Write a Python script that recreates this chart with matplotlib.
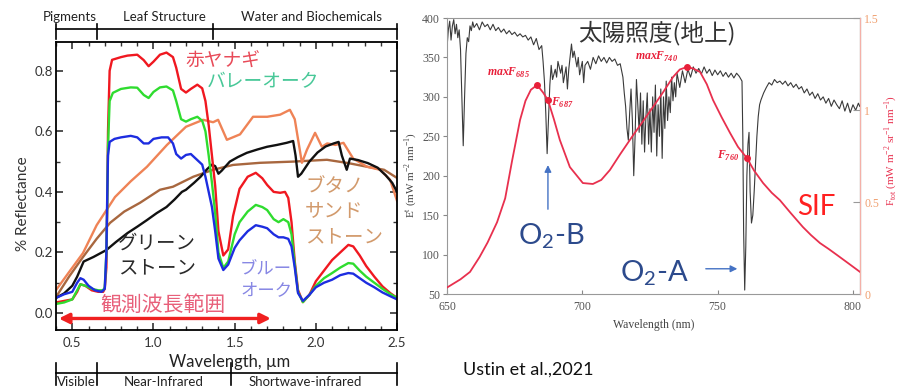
import matplotlib
matplotlib.use("Agg")
import matplotlib.pyplot as plt

plt.rcParams["font.family"] = ["Lato", "Noto Sans CJK JP", "DejaVu Sans"]
JP = ["Noto Sans CJK JP", "DejaVu Sans"]
SERIF = ["Liberation Serif", "DejaVu Serif"]

# ---- left panel: reflectance spectra (um, fraction) ----
willow_wl = [0.40, 0.45, 0.50, 0.53, 0.55, 0.58, 0.62, 0.66, 0.69, 0.70, 0.71, 0.715, 0.72, 0.73, 0.745,
             0.80, 0.84, 0.90, 0.94, 0.97, 1.00, 1.04, 1.08, 1.12, 1.14, 1.17, 1.20, 1.23, 1.27, 1.30,
             1.32, 1.34, 1.36, 1.38, 1.40, 1.43, 1.46, 1.49, 1.53, 1.58, 1.63, 1.67, 1.70, 1.74, 1.78,
             1.81, 1.83, 1.85, 1.87, 1.89, 1.92, 1.96, 2.00, 2.05, 2.10, 2.15, 2.20, 2.23, 2.27, 2.31,
             2.36, 2.41, 2.46, 2.50]
willow_r = [0.035, 0.04, 0.045, 0.07, 0.095, 0.09, 0.075, 0.07, 0.07, 0.08, 0.15, 0.35, 0.60, 0.80, 0.836,
            0.845, 0.85, 0.853, 0.835, 0.815, 0.83, 0.853, 0.86, 0.845, 0.81, 0.74, 0.728, 0.74, 0.754, 0.742,
            0.70, 0.62, 0.52, 0.42, 0.27, 0.19, 0.21, 0.32, 0.41, 0.45, 0.463, 0.445, 0.423, 0.40, 0.397,
            0.40, 0.38, 0.30, 0.17, 0.076, 0.036, 0.06, 0.105, 0.14, 0.175, 0.20, 0.225, 0.22, 0.19, 0.155,
            0.12, 0.088, 0.065, 0.05]

valley_oak_wl = [0.40, 0.45, 0.50, 0.53, 0.55, 0.58, 0.62, 0.66, 0.69, 0.70, 0.71, 0.715, 0.72, 0.73, 0.75,
                 0.80, 0.86, 0.90, 0.94, 0.97, 1.00, 1.04, 1.08, 1.12, 1.14, 1.17, 1.20, 1.23, 1.27, 1.30,
                 1.32, 1.34, 1.36, 1.38, 1.40, 1.43, 1.46, 1.50, 1.53, 1.58, 1.63, 1.67, 1.70, 1.74, 1.77,
                 1.80, 1.83, 1.85, 1.87, 1.89, 1.92, 1.96, 2.00, 2.05, 2.10, 2.15, 2.20, 2.23, 2.27, 2.31,
                 2.36, 2.41, 2.46, 2.50]
valley_oak_r = [0.03, 0.035, 0.045, 0.075, 0.095, 0.09, 0.08, 0.075, 0.075, 0.085, 0.2, 0.35, 0.55, 0.70, 0.727,
                0.74, 0.745, 0.744, 0.72, 0.71, 0.73, 0.745, 0.748, 0.735, 0.70, 0.64, 0.632, 0.64, 0.648, 0.635,
                0.60, 0.52, 0.43, 0.33, 0.20, 0.149, 0.17, 0.26, 0.30, 0.335, 0.357, 0.35, 0.34, 0.31, 0.30,
                0.31, 0.30, 0.26, 0.16, 0.07, 0.036, 0.06, 0.09, 0.115, 0.132, 0.15, 0.165, 0.163, 0.14, 0.12,
                0.10, 0.08, 0.062, 0.05]

blue_oak_wl = [0.40, 0.45, 0.50, 0.53, 0.55, 0.57, 0.60, 0.64, 0.68, 0.70, 0.71, 0.715, 0.72, 0.73, 0.76,
               0.80, 0.86, 0.90, 0.94, 0.97, 1.00, 1.05, 1.09, 1.12, 1.14, 1.17, 1.20, 1.23, 1.27, 1.30,
               1.32, 1.34, 1.36, 1.38, 1.40, 1.43, 1.46, 1.50, 1.53, 1.58, 1.63, 1.67, 1.70, 1.74, 1.77,
               1.80, 1.83, 1.85, 1.87, 1.89, 1.92, 1.96, 2.00, 2.05, 2.10, 2.15, 2.20, 2.23, 2.27, 2.31,
               2.36, 2.41, 2.46, 2.50]
blue_oak_r = [0.05, 0.062, 0.07, 0.10, 0.115, 0.11, 0.09, 0.075, 0.07, 0.08, 0.2, 0.38, 0.52, 0.565, 0.575,
              0.58, 0.585, 0.58, 0.56, 0.56, 0.575, 0.58, 0.58, 0.56, 0.525, 0.51, 0.522, 0.525, 0.505, 0.49,
              0.45, 0.40, 0.35, 0.27, 0.18, 0.142, 0.16, 0.215, 0.24, 0.27, 0.29, 0.285, 0.28, 0.26, 0.25,
              0.25, 0.245, 0.22, 0.15, 0.066, 0.04, 0.06, 0.085, 0.10, 0.11, 0.125, 0.132, 0.13, 0.115, 0.10,
              0.085, 0.068, 0.055, 0.045]

greenstone_wl = [0.40, 0.45, 0.50, 0.53, 0.57, 0.63, 0.71, 0.77, 0.84, 0.90, 0.96, 1.02, 1.08, 1.13, 1.175,
                 1.20, 1.25, 1.29, 1.33, 1.36, 1.38, 1.40, 1.42, 1.47, 1.52, 1.575, 1.64, 1.70, 1.76, 1.82,
                 1.86, 1.875, 1.89, 1.91, 1.96, 2.01, 2.06, 2.11, 2.14, 2.16, 2.19, 2.21, 2.26, 2.32, 2.38,
                 2.43, 2.47, 2.50]
greenstone_r = [0.05, 0.065, 0.09, 0.12, 0.17, 0.185, 0.208, 0.235, 0.264, 0.285, 0.307, 0.33, 0.35, 0.375, 0.40,
                0.407, 0.43, 0.45, 0.475, 0.49, 0.485, 0.46, 0.47, 0.50, 0.515, 0.529, 0.54, 0.549, 0.555, 0.562,
                0.568, 0.52, 0.45, 0.46, 0.50, 0.53, 0.55, 0.56, 0.565, 0.52, 0.473, 0.51, 0.505, 0.495, 0.48,
                0.455, 0.43, 0.40]

sand_orange_wl = [0.40, 0.48, 0.566, 0.65, 0.763, 0.86, 0.96, 1.083, 1.20, 1.306, 1.367, 1.398, 1.452, 1.533,
                  1.613, 1.70, 1.78, 1.84, 1.87, 1.914, 1.945, 1.995, 2.037, 2.07, 2.12, 2.17, 2.23, 2.315,
                  2.395, 2.457, 2.50]
sand_orange_r = [0.076, 0.135, 0.198, 0.29, 0.383, 0.435, 0.483, 0.555, 0.615, 0.638, 0.63, 0.638, 0.572, 0.59,
                 0.648, 0.648, 0.655, 0.671, 0.64, 0.496, 0.539, 0.595, 0.549, 0.56, 0.555, 0.562, 0.51, 0.483,
                 0.473, 0.44, 0.37]

sand_brown_wl = [0.40, 0.48, 0.566, 0.65, 0.733, 0.82, 0.917, 1.04, 1.12, 1.245, 1.367, 1.49, 1.656, 1.86,
                 2.068, 2.20, 2.315, 2.42, 2.50]
sand_brown_r = [0.053, 0.12, 0.185, 0.245, 0.298, 0.335, 0.364, 0.407, 0.417, 0.45, 0.473, 0.489, 0.496, 0.50,
                0.506, 0.495, 0.483, 0.473, 0.446]

# ---- right panel: irradiance (nm, mW m-2 nm-1) and SIF ----
irr_wl = [650, 650.5, 651, 651.5, 652, 652.5, 653, 653.5, 654, 654.5, 655, 655.5, 656, 656.5, 657, 657.5,
          658, 658.5, 659, 659.5, 660, 661, 662, 663, 664, 665, 666, 667, 668, 669, 670, 671, 672, 673,
          674, 675, 676, 677, 678, 679, 680, 681, 682, 683, 684, 685, 685.5, 686, 686.5, 687, 687.5, 688,
          688.5, 689, 690, 690.5, 691, 692, 692.5, 693, 694, 694.5, 695, 696, 696.5, 697, 698, 698.5, 699,
          700, 700.5, 701, 702, 703, 704, 705, 706, 707, 708, 709, 710, 711, 712, 713, 714, 715, 715.5,
          716, 716.5, 717, 717.5, 718, 718.5, 719, 719.5, 720, 720.5, 721, 721.5, 722, 722.5, 723, 723.5,
          724, 724.5, 725, 725.5, 726, 726.5, 727, 727.5, 728, 728.5, 729, 729.5, 730, 730.5, 731, 731.5,
          732, 732.5, 733, 733.5, 734, 734.5, 735, 736, 737, 738, 739, 740, 741, 742, 743, 744, 745, 746,
          747, 748, 749, 750, 751, 752, 753, 754, 755, 756, 757, 758, 759, 759.3, 759.6, 760, 760.4, 760.8,
          761.2, 761.6, 762, 762.5, 763, 763.5, 764, 764.5, 765, 765.5, 766, 767, 768, 769, 770, 771, 772,
          773, 774, 775, 776, 777, 778, 779, 780, 781, 782, 783, 784, 785, 786, 787, 788, 789, 790, 791,
          792, 793, 794, 795, 796, 797, 798, 799, 800, 801, 802, 802.5]
irr_e = [362, 385, 396, 372, 390, 398, 380, 392, 375, 385, 360, 300, 238, 300, 355, 375,
         370, 390, 384, 395, 388, 393, 385, 395, 389, 392, 385, 392, 384, 388, 382, 386, 380, 384,
         379, 382, 377, 380, 376, 378, 372, 376, 366, 374, 360, 365, 345, 320, 280, 228, 270, 315,
         340, 322, 335, 325, 345, 330, 340, 318, 338, 310, 335, 367, 350, 358, 338, 350, 328,
         345, 318, 340, 345, 335, 350, 342, 352, 345, 350, 343, 350, 345, 348, 340, 342, 325, 305,
         288, 260, 245, 280, 310, 270, 200, 250, 322, 290, 255, 305, 240, 295, 230, 275,
         305, 240, 285, 230, 300, 255, 315, 225, 290, 250, 310, 222, 300, 260, 320, 270,
         300, 280, 325, 295, 318, 300, 330, 312, 333, 318, 335, 325, 338, 330, 336, 329, 338, 330,
         335, 327, 334, 328, 333, 326, 331, 325, 330, 324, 330, 326, 320, 250, 130, 55, 110, 200,
         240, 255, 180, 140, 150, 180, 215, 250, 275, 290, 296, 305, 312, 318, 315, 322, 318,
         320, 316, 320, 314, 318, 312, 316, 310, 313, 305, 310, 302, 306, 298, 304, 296, 300, 292, 298,
         288, 296, 290, 285, 295, 282, 292, 280, 290, 283, 292, 288]

sif_wl = [650, 655, 658.5, 662, 665, 668.5, 671.5, 674, 677, 679, 681, 683.3, 685.5, 687.3, 689.5, 691.7,
          695.4, 700.2, 703.9, 707, 710.2, 714, 718.3, 722, 726.1, 730, 733.5, 736, 738.7, 741, 743.5,
          746, 748.3, 751.5, 754.6, 757.5, 760.8, 763.5, 766.8, 770, 773, 777, 781.5, 784.5, 787.8,
          791, 794.1, 798, 802.6]
sif_f = [0.035, 0.08, 0.12, 0.20, 0.28, 0.39, 0.52, 0.72, 0.946, 1.05, 1.11, 1.136, 1.095, 1.054, 0.95, 0.837,
         0.69, 0.603, 0.598, 0.62, 0.674, 0.76, 0.853, 0.93, 1.016, 1.10, 1.179, 1.22, 1.234, 1.225, 1.207,
         1.14, 1.054, 0.96, 0.875, 0.80, 0.739, 0.67, 0.603, 0.55, 0.51, 0.44, 0.364, 0.32, 0.277,
         0.245, 0.212, 0.17, 0.12]

mark_wl = [683.3, 687.3, 738.7, 760.8]
mark_f = [1.136, 1.054, 1.234, 0.739]
mark_lbl = ["maxF$_\\mathregular{685}$", "F$_\\mathregular{687}$", "maxF$_\\mathregular{740}$", "F$_\\mathregular{760}$"]
mark_txt_xy = [(672.6, 1.20, "center"), (688.6, 1.04, "left"), (727.6, 1.29, "center"), (749.6, 0.75, "left")]


def bracket(ax, xs, y, y0, y1, names, name_x, name_y):
    tr = ax.get_xaxis_transform()
    ax.plot([xs[0], xs[-1]], [y, y], color="black", lw=1.2, transform=tr, clip_on=False)
    for x in xs:
        ax.plot([x, x], [y0, y1], color="black", lw=1.2, transform=tr, clip_on=False)
    for n, nx in zip(names, name_x):
        ax.text(nx, name_y, n, transform=tr, ha="center", va="center", fontsize=9.5, color="#222222")


fig = plt.figure(figsize=(9.01, 3.89), dpi=100)

# left panel
ax = fig.add_axes([0.0622, 0.1517, 0.3785, 0.7404])
lw = 1.7
ax.plot(sand_brown_wl, sand_brown_r, color="#a8673f", lw=lw)
ax.plot(sand_orange_wl, sand_orange_r, color="#ef8356", lw=lw)
ax.plot(greenstone_wl, greenstone_r, color="#111111", lw=lw)
ax.plot(willow_wl, willow_r, color="#f01820", lw=lw)
ax.plot(valley_oak_wl, valley_oak_r, color="#2fdc2f", lw=lw)
ax.plot(blue_oak_wl, blue_oak_r, color="#1d2de0", lw=lw)
ax.set_xlim(0.4, 2.5)
ax.set_ylim(-0.056, 0.895)
ax.set_xticks([0.5, 1.0, 1.5, 2.0, 2.5])
ax.set_xticks([x / 10 for x in range(4, 26)], minor=True)
ax.set_yticks([0.0, 0.2, 0.4, 0.6, 0.8])
ax.set_yticks([0.1, 0.3, 0.5, 0.7], minor=True)
ax.tick_params(which="both", direction="in", top=True, right=True, labelsize=9.5, colors="#333333")
ax.tick_params(which="major", length=5, width=1.2)
ax.tick_params(which="minor", length=3, width=1)
ax.tick_params(axis="x", pad=5)
ax.tick_params(axis="y", pad=2)
for s in ax.spines.values():
    s.set_linewidth(1.3)
ax.text(-0.097, 0.4375, "% Reflectance", transform=ax.transAxes, rotation=90,
        ha="center", va="center", fontsize=11, color="#333333")
ax.text(1.47, -0.111, "Wavelength, µm", transform=ax.get_xaxis_transform(),
        ha="center", va="center", fontsize=12, color="#222222")

bracket(ax, [0.4, 0.652, 1.367, 2.5], 1.044, 1.012, 1.064,
        ["Pigments", "Leaf Structure", "Water and Biochemicals"], [0.485, 1.07, 1.975], 1.087)
bracket(ax, [0.4, 0.652, 1.478, 2.5], -0.150, -0.116, -0.19,
        ["Visible", "Near-Infrared", "Shortwave-infrared"], [0.523, 1.065, 1.933], -0.181)

ax.annotate("", xy=(0.4, -0.018), xytext=(1.74, -0.018),
            arrowprops=dict(arrowstyle="<|-|>", color="#f02020", lw=2.4, mutation_scale=15))
ax.text(1.06, 0.028, "観測波長範囲", family=JP, fontsize=15, color="#e8607a", ha="center", va="center")
ax.text(1.194, 0.83, "赤ヤナギ", family=JP, fontsize=13.5, color="#e84a58", ha="left", va="center")
ax.text(1.33, 0.765, "バレーオーク", family=JP, fontsize=13.5, color="#48c898", ha="left", va="center")
ax.text(1.933, 0.334, "ブタノ\nサンド\nストーン", family=JP, fontsize=14, color="#d29a6c",
        ha="left", va="center", linespacing=1.25)
ax.text(0.782, 0.19, "グリーン\nストーン", family=JP, fontsize=14, color="#2a2a2a",
        ha="left", va="center", linespacing=1.25)
ax.text(1.533, 0.109, "ブルー\nオーク", family=JP, fontsize=12.5, color="#8888e4",
        ha="left", va="center", linespacing=1.15)

# right panel
ax2 = fig.add_axes([0.4961, 0.2442, 0.4584, 0.7095])
ax2.plot(irr_wl, irr_e, color="#3a3a3a", lw=0.8)
ax2.set_xlim(650, 802.6)
ax2.set_ylim(50, 400)
ax2.set_xticks([650, 700, 750, 800])
ax2.set_yticks(list(range(50, 401, 50)))
ax2.tick_params(axis="y", direction="out", length=3, pad=2, labelsize=8.5, labelcolor="#555555", color="#888888")
ax2.tick_params(axis="x", direction="in", length=3, pad=5, labelsize=8.5, labelcolor="#555555", color="#888888")
for lab in ax2.get_xticklabels() + ax2.get_yticklabels():
    lab.set_family(SERIF)
for k in ["left", "top", "bottom"]:
    ax2.spines[k].set_color("#999999")
    ax2.spines[k].set_linewidth(0.8)
ax2.text(-0.087, 0.43, "E$^\\mathregular{t}$ (mW m$^\\mathregular{-2}$ nm$^\\mathregular{-1}$)", transform=ax2.transAxes,
         rotation=90, ha="center", va="center", fontsize=8, family=SERIF, color="#444444")
ax2.text(0.5, -0.112, "Wavelength (nm)", transform=ax2.transAxes, ha="center", va="center",
         fontsize=8.5, family=SERIF, color="#444444")
ax2.text(0.508, 0.946, "太陽照度(地上)", transform=ax2.transAxes, family=JP, fontsize=17,
         color="#333333", ha="center", va="center")

ax3 = ax2.twinx()
ax3.plot(sif_wl, sif_f, color="#e8304e", lw=1.3)
ax3.plot(mark_wl, mark_f, "o", color="#e8203a", ms=4, ls="none")
for (tx, ty, ha), lbl in zip(mark_txt_xy, mark_lbl):
    ax3.text(tx, ty, lbl, color="#e8203a", fontsize=8.5, family=SERIF, fontstyle="italic",
             fontweight="bold", ha=ha, va="center")
ax3.set_ylim(0, 1.5)
ax3.set_yticks([0, 0.5, 1, 1.5])
ax3.set_yticklabels(["0", "0.5", "1", "1.5"])
ax3.tick_params(axis="y", direction="in", length=5, pad=3, labelsize=8.5, labelcolor="#f0a070", color="#999999")
for lab in ax3.get_yticklabels():
    lab.set_family(SERIF)
ax3.spines["right"].set_color("#f4b0a8")
for k in ["left", "top", "bottom"]:
    ax3.spines[k].set_visible(False)
ax3.text(1.075, 0.52, "F$_\\mathregular{tot}$ (mW m$^\\mathregular{-2}$ sr$^\\mathregular{-1}$ nm$^\\mathregular{-1}$)",
         transform=ax3.transAxes, rotation=90, ha="center", va="center", fontsize=8, family=SERIF, color="#e8304e")

ax2.annotate("", xy=(687.3, 217), xytext=(687.3, 154),
             arrowprops=dict(arrowstyle="-|>", color="#4472c4", lw=1, mutation_scale=10))
ax2.annotate("", xy=(758.3, 82), xytext=(744.6, 82),
             arrowprops=dict(arrowstyle="-|>", color="#4472c4", lw=1, mutation_scale=10))
ax2.text(0.172, 0.21, "O$_\\mathregular{2}$-B", transform=ax2.transAxes, fontsize=21, color="#2c4a8c",
         ha="left", va="center")
ax2.text(0.419, 0.074, "O$_\\mathregular{2}$-A", transform=ax2.transAxes, fontsize=21, color="#2c4a8c",
         ha="left", va="center")
ax2.text(0.847, 0.315, "SIF", transform=ax2.transAxes, fontsize=20, color="#ff2020", ha="left", va="center")

fig.text(0.514, 0.049, "Ustin et al.,2021", fontsize=13, color="#111111", ha="left", va="center")

fig.savefig("out.png", dpi=100)
